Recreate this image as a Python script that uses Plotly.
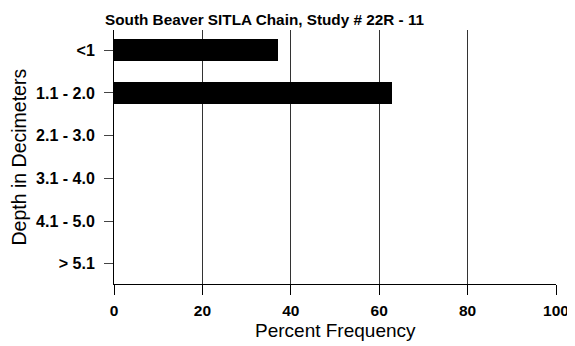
import plotly.graph_objects as go

categories = ["<1", "1.1 - 2.0", "2.1 - 3.0", "3.1 - 4.0", "4.1 - 5.0", "> 5.1"]
percent = [37.1, 62.9, 0, 0, 0, 0]
x_ticks = [0, 20, 40, 60, 80, 100]

# page body has an 8px margin, so the figure is sized/positioned to compensate
W, H = 567, 338

fig = go.Figure(go.Bar(
    x=percent, y=categories, orientation="h",
    marker=dict(color="black", line=dict(width=0)),
    width=0.52,
))

fig.update_layout(
    width=W, height=H,
    margin=dict(l=106, r=19, t=22, b=62),
    paper_bgcolor="white", plot_bgcolor="white",
    font=dict(family="Liberation Sans, Arial, sans-serif", color="black"),
    showlegend=False,
    title=dict(
        text="<b>South Beaver SITLA Chain, Study # 22R - 11</b>",
        font=dict(size=15.3, color="black"),
        x=97/W, xref="container", xanchor="left",
        y=1-12/H, yref="container", yanchor="middle",
    ),
    bargap=0,
    annotations=[
        dict(text="Percent Frequency", xref="paper", yref="paper",
             x=0.5, y=-46/254, xanchor="center", yanchor="middle",
             showarrow=False, font=dict(size=19), borderpad=0),
        dict(text="Depth in Decimeters", xref="paper", yref="paper",
             x=-(114-18.5)/442, y=0.5, xanchor="center", yanchor="middle",
             textangle=-90, showarrow=False, font=dict(size=19.5)),
    ],
)

fig.update_xaxes(
    range=[0, 100], tickvals=x_ticks, automargin=False,
    showgrid=True, gridcolor="#333333", gridwidth=1,
    showline=True, linecolor="black", linewidth=1,
    ticks="outside", ticklen=10, tickcolor="black",
    ticklabelstandoff=2,
    tickfont=dict(size=15.5, weight="bold"),
    zeroline=False,
)

fig.update_yaxes(
    categoryorder="array", categoryarray=categories, automargin=False,
    range=[5.475, -0.475],
    showgrid=False,
    showline=True, linecolor="black", linewidth=1,
    ticks="outside", ticklen=9, tickcolor="#444444",
    ticklabelstandoff=6,
    tickfont=dict(size=16, weight="bold"),
)

fig.write_html("out.html")
